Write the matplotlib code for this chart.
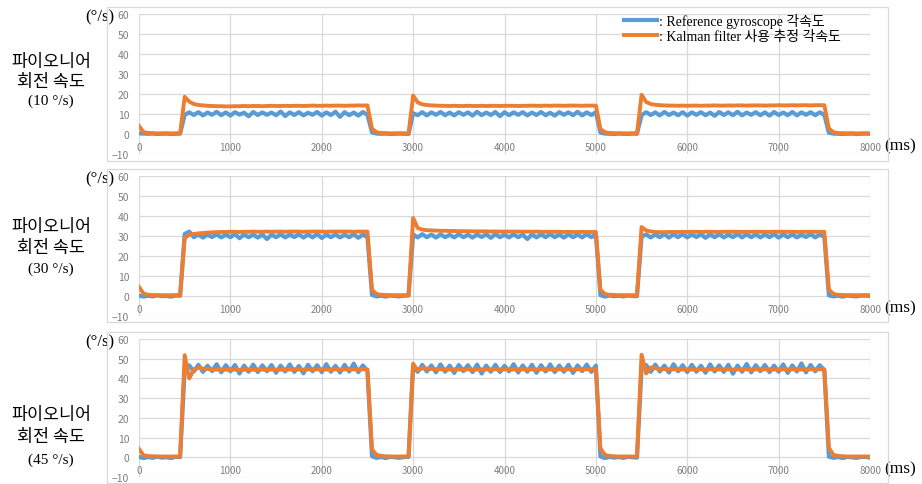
import numpy as np
import matplotlib
matplotlib.use("Agg")
import matplotlib.pyplot as plt
from matplotlib.patches import Rectangle
from matplotlib.font_manager import FontProperties

plt.rcParams['font.family'] = ['Noto Sans CJK KR', 'DejaVu Sans']

# time axis (ms), one sample every 50 ms
t_ms = np.arange(0, 8001, 50)

x_ticks = [0, 1000, 2000, 3000, 4000, 5000, 6000, 7000, 8000]
y_ticks = [-10, 0, 10, 20, 30, 40, 50, 60]

# ---- 10 deg/s ----
ref_10 = [0.3, 0.2, 0.1, 0.2, 0.0, 0.1, 0.2, 0.0, 0.1, 0.2,
          9.6, 10.8, 9.5, 10.9, 9.3, 10.7, 9.6, 11.1, 9.4, 10.8, 9.2, 10.9, 9.7, 10.6, 8.9, 11.0, 9.5, 10.8, 9.6, 10.7,
          9.4, 11.2, 9.0, 10.8, 9.5, 10.9, 9.3, 10.6, 9.6, 11.0, 9.2, 10.8, 9.5, 11.1, 8.6, 10.9, 9.4, 10.7, 9.2, 11.0, 9.6,
          0.8, 0.2, 0.1, 0.2, 0.0, 0.1, 0.2, 0.1, 0.0,
          10.4, 9.4, 10.9, 9.3, 10.8, 9.6, 11.0, 9.4, 10.7, 9.3, 10.9, 9.6, 10.8, 9.2, 11.1, 9.4, 10.7, 9.5, 11.0, 8.9,
          10.9, 9.4, 10.8, 9.6, 10.9, 9.3, 10.7, 9.5, 11.0, 9.4, 10.6, 9.2, 10.9, 9.6, 10.8, 9.4, 11.1, 9.3, 10.8, 9.5, 10.9,
          0.7, 0.2, 0.1, 0.0, 0.2, 0.1, 0.0, 0.2, 0.1,
          9.4, 10.9, 9.5, 10.8, 9.3, 11.0, 9.5, 10.7, 9.4, 10.9, 9.2, 10.8, 9.6, 10.9, 9.4, 10.7, 9.1, 11.0, 9.5, 10.8,
          9.4, 11.1, 9.3, 10.7, 9.6, 10.9, 9.4, 10.8, 9.2, 11.0, 9.5, 10.7, 9.4, 11.0, 9.3, 10.8, 9.6, 10.9, 9.4, 10.8, 9.6,
          0.6, 0.2, 0.1, 0.0, 0.1, 0.2, 0.0, 0.1, 0.2, 0.1]
kal_10 = [4.0, 0.9, 0.5, 0.4, 0.3, 0.3, 0.3, 0.3, 0.3, 0.3,
          18.6, 16.2, 15.0, 14.5, 14.3, 14.1, 14.0, 13.9, 13.9, 13.8, 13.8, 13.9, 13.9, 14.0, 13.9, 14.0, 14.0, 13.9, 14.0, 14.1,
          14.0, 14.0, 14.1, 14.0, 14.1, 14.1, 14.0, 14.1, 14.2, 14.1, 14.1, 14.2, 14.1, 14.2, 14.2, 14.1, 14.2, 14.2, 14.3, 14.2, 14.3,
          2.6, 0.9, 0.5, 0.4, 0.3, 0.3, 0.3, 0.3, 0.3,
          19.2, 15.8, 14.8, 14.5, 14.3, 14.2, 14.1, 14.1, 14.0, 14.1, 14.0, 14.0, 14.1, 14.0, 14.0, 14.1, 14.0, 14.1, 14.1, 14.0,
          14.1, 14.1, 14.1, 14.0, 14.1, 14.1, 14.2, 14.1, 14.1, 14.2, 14.1, 14.2, 14.2, 14.1, 14.2, 14.2, 14.2, 14.1, 14.2, 14.2, 14.2,
          2.5, 0.9, 0.5, 0.4, 0.3, 0.3, 0.3, 0.3, 0.3,
          19.6, 16.0, 15.0, 14.6, 14.4, 14.3, 14.2, 14.2, 14.1, 14.2, 14.1, 14.2, 14.2, 14.1, 14.2, 14.2, 14.3, 14.2, 14.2, 14.3,
          14.2, 14.3, 14.3, 14.2, 14.3, 14.3, 14.3, 14.2, 14.3, 14.3, 14.4, 14.3, 14.3, 14.4, 14.3, 14.4, 14.4, 14.3, 14.4, 14.4, 14.4,
          2.7, 0.9, 0.5, 0.4, 0.3, 0.3, 0.3, 0.3, 0.3, 0.3]

# ---- 30 deg/s ----
ref_30 = [0.2, -0.3, 0.1, -0.2, 0.3, -0.1, 0.0, -0.3, 0.2, 0.1,
          31.0, 32.2, 29.4, 30.7, 29.2, 30.6, 29.5, 30.8, 29.3, 30.6, 29.4, 30.9, 28.9, 30.7, 29.4, 30.6, 29.2, 30.7, 28.5, 30.6,
          29.4, 30.8, 29.3, 30.6, 29.5, 30.8, 29.2, 30.7, 29.3, 30.9, 29.0, 30.6, 29.4, 30.7, 29.3, 30.6, 29.4, 30.8, 29.1, 30.7, 29.5,
          0.5, -0.2, 0.1, -0.3, 0.2, 0.0, -0.2, 0.1, 0.2,
          30.8, 29.3, 30.9, 29.4, 30.7, 29.2, 30.8, 29.4, 30.6, 29.3, 30.9, 29.4, 30.6, 29.2, 30.7, 29.5, 30.8, 29.1, 30.9, 29.4,
          30.6, 29.3, 30.8, 29.4, 30.6, 28.5, 30.7, 29.3, 30.8, 29.4, 30.9, 29.4, 30.7, 29.2, 30.8, 29.4, 30.7, 29.3, 30.9, 29.4, 30.7,
          0.4, -0.3, 0.2, -0.1, 0.1, -0.2, 0.2, 0.0, -0.1,
          29.6, 30.8, 29.3, 30.7, 29.4, 30.9, 29.2, 30.8, 29.4, 30.9, 29.3, 30.7, 29.5, 30.8, 29.1, 30.7, 29.4, 30.9, 29.3, 30.6,
          29.4, 31.0, 29.3, 30.8, 29.4, 30.7, 29.3, 30.7, 29.4, 30.9, 29.2, 30.7, 29.4, 30.8, 29.3, 30.6, 29.5, 30.9, 29.3, 30.7, 29.6,
          0.3, -0.2, 0.1, -0.3, 0.2, 0.0, -0.2, 0.1, 0.2, -0.1]
kal_30 = [4.5, 1.2, 0.6, 0.5, 0.4, 0.4, 0.4, 0.4, 0.4, 0.4,
          29.0, 30.6, 31.0, 31.3, 31.5, 31.7, 31.8, 31.9, 32.0, 32.0, 32.1, 32.1, 32.0, 32.1, 32.1, 32.2, 32.1, 32.1, 32.2, 32.1,
          32.2, 32.2, 32.1, 32.2, 32.2, 32.2, 32.1, 32.2, 32.2, 32.2, 32.2, 32.1, 32.2, 32.2, 32.2, 32.2, 32.2, 32.1, 32.2, 32.2, 32.2,
          3.0, 1.0, 0.6, 0.5, 0.4, 0.4, 0.4, 0.4, 0.4,
          39.0, 34.0, 33.2, 32.9, 32.8, 32.7, 32.6, 32.6, 32.5, 32.5, 32.4, 32.4, 32.4, 32.3, 32.3, 32.3, 32.3, 32.2, 32.3, 32.2,
          32.2, 32.2, 32.2, 32.2, 32.1, 32.2, 32.1, 32.2, 32.1, 32.1, 32.1, 32.1, 32.1, 32.0, 32.1, 32.0, 32.0, 32.1, 32.0, 32.0, 32.0,
          3.0, 1.0, 0.6, 0.5, 0.4, 0.4, 0.4, 0.4, 0.4,
          34.5, 32.8, 32.3, 32.0, 31.9, 31.9, 32.0, 32.0, 32.0, 32.1, 32.0, 32.1, 32.1, 32.0, 32.1, 32.1, 32.1, 32.0, 32.1, 32.1,
          32.1, 32.1, 32.0, 32.1, 32.1, 32.1, 32.1, 32.1, 32.0, 32.1, 32.1, 32.1, 32.1, 32.1, 32.0, 32.1, 32.1, 32.1, 32.1, 32.1, 32.1,
          3.2, 1.0, 0.6, 0.5, 0.4, 0.4, 0.4, 0.4, 0.4, 0.4]

# ---- 45 deg/s ----
ref_45 = [0.2, -0.4, 0.1, -0.3, 0.3, -0.2, 0.0, -0.4, 0.2, 0.1,
          44.5, 46.6, 43.5, 46.9, 43.3, 46.4, 43.7, 47.2, 43.1, 46.7, 43.6, 46.8, 42.5, 46.5, 43.4, 47.0, 43.2, 46.6, 43.6, 46.8,
          42.9, 46.5, 43.5, 47.1, 43.3, 46.3, 42.6, 46.9, 43.6, 46.7, 43.2, 47.2, 43.4, 46.4, 43.0, 46.9, 43.5, 47.5, 43.2, 46.6, 43.8,
          0.5, -0.3, 0.1, -0.4, 0.2, 0.0, -0.3, 0.1, 0.2,
          46.4, 43.3, 46.9, 43.5, 46.6, 43.1, 47.1, 43.4, 46.5, 42.8, 46.8, 43.7, 46.7, 43.2, 47.0, 42.5, 46.5, 43.4, 46.9, 43.2,
          46.4, 43.6, 47.2, 43.0, 46.6, 43.4, 46.9, 42.9, 46.7, 43.5, 47.1, 43.2, 46.5, 43.4, 46.9, 42.8, 46.6, 43.7, 47.0, 43.3, 46.5,
          0.4, -0.4, 0.2, -0.2, 0.1, -0.3, 0.2, 0.0, -0.2,
          45.0, 46.8, 43.3, 47.0, 43.5, 46.5, 43.0, 47.2, 43.6, 46.7, 43.2, 46.9, 43.4, 46.4, 42.9, 47.1, 43.5, 46.6, 43.3, 46.9,
          42.4, 46.5, 43.4, 47.3, 43.1, 46.7, 43.7, 46.8, 43.2, 46.5, 43.4, 47.1, 42.8, 46.6, 43.5, 47.6, 43.1, 46.8, 43.6, 46.7, 44.2,
          0.3, -0.3, 0.1, -0.4, 0.2, 0.0, -0.3, 0.1, 0.2, -0.2]
kal_45 = [4.2, 1.0, 0.6, 0.5, 0.4, 0.4, 0.4, 0.4, 0.4, 0.4,
          51.8, 40.0, 44.5, 45.4, 45.0, 44.8, 44.6, 44.5, 44.5, 44.4, 44.4, 44.5, 44.4, 44.4, 44.5, 44.4, 44.5, 44.5, 44.4, 44.5,
          44.5, 44.4, 44.5, 44.5, 44.6, 44.5, 44.5, 44.6, 44.5, 44.6, 44.6, 44.5, 44.6, 44.6, 44.5, 44.6, 44.6, 44.6, 44.5, 44.6, 44.6,
          4.0, 1.2, 0.7, 0.5, 0.4, 0.4, 0.4, 0.4, 0.4,
          47.5, 44.0, 45.2, 45.0, 44.8, 44.7, 44.6, 44.6, 44.5, 44.6, 44.5, 44.5, 44.6, 44.5, 44.5, 44.6, 44.5, 44.6, 44.6, 44.5,
          44.6, 44.6, 44.5, 44.6, 44.6, 44.6, 44.5, 44.6, 44.6, 44.6, 44.5, 44.6, 44.6, 44.6, 44.6, 44.5, 44.6, 44.6, 44.6, 44.6, 44.6,
          4.5, 1.2, 0.7, 0.5, 0.4, 0.4, 0.4, 0.4, 0.4,
          52.0, 42.5, 45.6, 45.2, 44.9, 44.7, 44.6, 44.6, 44.5, 44.5, 44.6, 44.5, 44.5, 44.6, 44.5, 44.6, 44.6, 44.5, 44.6, 44.6,
          44.5, 44.6, 44.6, 44.6, 44.5, 44.6, 44.6, 44.6, 44.6, 44.5, 44.6, 44.6, 44.6, 44.6, 44.6, 44.5, 44.6, 44.6, 44.6, 44.6, 44.6,
          4.8, 1.2, 0.7, 0.5, 0.4, 0.4, 0.4, 0.4, 0.4, 0.4]

speed_labels = ["(10 °/s)", "(30 °/s)", "(45 °/s)"]
legend_labels = [": Reference gyroscope 각속도", ": Kalman filter 사용 추정 각속도"]

BLUE = "#5B9BD5"
ORANGE = "#ED7D31"
GRID = "#D9D9D9"
TICK = "#7F7F7F"

W, H = 922, 485
fig = plt.figure(figsize=(W / 100, H / 100), dpi=100)

# axes boxes in pixels: (top of 60 line, bottom of -10 line)
panel_px = [(15, 155), (177, 317), (340, 478)]
border_px = [(8, 162), (170, 323), (333, 484)]
text_px = [(62, 82, 101), (227, 248, 269), (415, 437, 460)]

serif = ['Liberation Serif', 'Noto Sans CJK KR']
axes = []
for i, (ref, kal) in enumerate([(ref_10, kal_10), (ref_30, kal_30), (ref_45, kal_45)]):
    top, bot = panel_px[i]
    ax = fig.add_axes([139 / W, 1 - bot / H, 731 / W, (bot - top) / H])
    axes.append(ax)
    ax.plot(t_ms, ref, color=BLUE, lw=3.0, zorder=3)
    ax.plot(t_ms, kal, color=ORANGE, lw=2.8, zorder=4)
    ax.set_xlim(0, 8000)
    ax.set_ylim(-10, 60)
    ax.set_xticks(x_ticks)
    ax.set_yticks(y_ticks)
    ax.grid(color=GRID, lw=0.9, zorder=0)
    for s in ax.spines.values():
        s.set_visible(False)
    ax.tick_params(length=0, labelbottom=False, labelsize=7.5, labelcolor=TICK, pad=7)
    for xt in x_ticks:
        ax.text(xt, -6.3, str(xt), ha='center', va='center', fontsize=7, color=TICK)
    ax.text(-0.053, 58.8, "(°/s)", transform=ax.get_yaxis_transform(), ha='center', va='center',
            family=serif, fontsize=12)
    ax.text(1.041, -5.5, "(ms)", transform=ax.get_yaxis_transform(), ha='center', va='center',
            family=serif, fontsize=12.5)

    y1, y2, y3 = text_px[i]
    fig.text(51 / W, 1 - y1 / H, "파이오니어", ha='center', va='center', fontsize=12.5)
    fig.text(51 / W, 1 - y2 / H, "회전 속도", ha='center', va='center', fontsize=12.5)
    fig.text(51 / W, 1 - y3 / H, speed_labels[i], ha='center', va='center', family=serif, fontsize=11)

    b1, b2 = border_px[i]
    fig.add_artist(Rectangle((107 / W, 1 - b2 / H), 781 / W, (b2 - b1) / H, transform=fig.transFigure,
                             fill=False, ec=GRID, lw=0.9))

h = axes[0].get_lines()
axes[0].legend(h, legend_labels, loc='upper left', bbox_to_anchor=(624 / W, 1 - 14 / H),
               bbox_transform=fig.transFigure, frameon=False,
               prop=FontProperties(family=serif, size=10), handlelength=2.4,
               handletextpad=0.15, labelspacing=0.15, borderpad=0, borderaxespad=0)

fig.savefig("out.png", dpi=100)
